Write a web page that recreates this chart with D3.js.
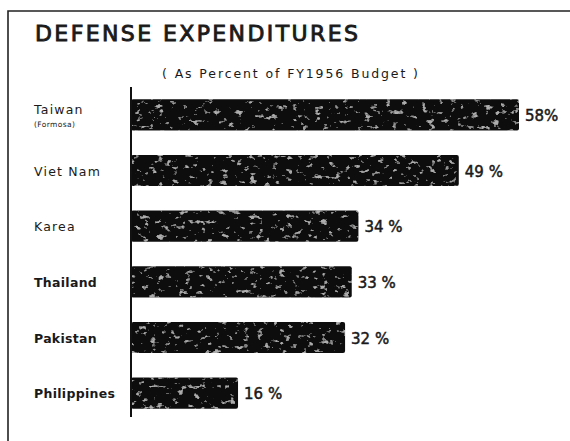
<!DOCTYPE html>
<html>
<head>
<meta charset="utf-8">
<script src="https://d3js.org/d3.v7.min.js"></script>
<style>
  body { margin: 0; background: #fff; }
  svg { display: block; }
</style>
</head>
<body>
<svg id="chart"></svg>
<script>
    // data
    var countries = ["Taiwan", "Viet Nam", "Karea", "Thailand", "Pakistan", "Philippines"];
    var subNotes = ["(Formosa)", "", "", "", "", ""];
    var percents = [58, 49, 34, 33, 32, 16];
    var valueLabels = ["58%", "49 %", "34 %", "33 %", "32 %", "16 %"];

    var w = 570, h = 441;
    var font = "'DejaVu Sans', sans-serif";

    var svg = d3.select("#chart")
        .attr("width", w)
        .attr("height", h);

    // speckle texture for the bars
    var defs = svg.append("defs");
    var f = defs.append("filter").attr("id", "speckle")
        .attr("x", 0).attr("y", 0).attr("width", 1).attr("height", 1);
    f.append("feTurbulence")
        .attr("type", "fractalNoise")
        .attr("baseFrequency", "0.14 0.2")
        .attr("numOctaves", 3)
        .attr("seed", 11)
        .attr("result", "noise");
    f.append("feColorMatrix")
        .attr("in", "noise")
        .attr("type", "matrix")
        .attr("values", "0 0 0 0 0.42  0 0 0 0 0.42  0 0 0 0 0.42  0 0 0 7 -4.4")
        .attr("result", "dots");
    f.append("feComposite")
        .attr("in", "dots").attr("in2", "SourceGraphic")
        .attr("operator", "in").attr("result", "dotsIn");
    var fm = f.append("feMerge");
    fm.append("feMergeNode").attr("in", "SourceGraphic");
    fm.append("feMergeNode").attr("in", "dotsIn");

    // frame (top and left only)
    svg.append("path")
        .attr("d", "M8," + h + " V11 H" + w)
        .attr("fill", "none")
        .attr("stroke", "#222")
        .attr("stroke-width", 1.6);

    svg.append("text")
        .attr("x", 35).attr("y", 41)
        .attr("font-family", font)
        .attr("font-size", 22)
        .attr("stroke", "#1a1a1a")
        .attr("stroke-width", 0.9)
        .attr("textLength", 323)
        .attr("fill", "#1a1a1a")
        .text("DEFENSE EXPENDITURES");

    svg.append("text")
        .attr("x", 162).attr("y", 78)
        .attr("font-family", font)
        .attr("font-size", 12.5)
        .attr("textLength", 256)
        .attr("fill", "#1a1a1a")
        .text("( As Percent of  FY1956 Budget )");

    var y = d3.scaleBand()
        .domain(countries)
        .range([87, 421])
        .paddingInner(0.44)
        .paddingOuter(0.22);

    var x = d3.scaleLinear()
        .domain([0, 58])
        .range([131, 519]);

    var rows = countries.map(function(c, i) {
        return {name: c, note: subNotes[i], v: percents[i], lab: valueLabels[i]};
    });

    svg.selectAll("rect.bar")
        .data(rows)
        .enter()
        .append("rect")
        .attr("class", "bar")
        .attr("x", x(0))
        .attr("y", function(d) { return y(d.name); })
        .attr("width", function(d) { return x(d.v) - x(0); })
        .attr("height", y.bandwidth())
        .attr("rx", 2)
        .attr("fill", "#111")
        .attr("filter", "url(#speckle)");

    // vertical axis line
    svg.append("line")
        .attr("x1", x(0)).attr("x2", x(0))
        .attr("y1", 87).attr("y2", 417)
        .attr("stroke", "#111")
        .attr("stroke-width", 2);

    svg.selectAll("text.val")
        .data(rows)
        .enter()
        .append("text")
        .attr("class", "val")
        .attr("x", function(d) { return x(d.v) + 6; })
        .attr("y", function(d) { return y(d.name) + y.bandwidth() / 2 + 6; })
        .attr("font-family", font)
        .attr("font-size", 15)
        .attr("stroke", "#1a1a1a")
        .attr("stroke-width", 0.5)
        .attr("fill", "#1a1a1a")
        .text(function(d) { return d.lab; });

    svg.selectAll("text.cat")
        .data(rows)
        .enter()
        .append("text")
        .attr("class", "cat")
        .attr("x", 34)
        .attr("y", function(d) {
            var c = y(d.name) + y.bandwidth() / 2 + 5;
            return d.note ? c - 6 : c;
        })
        .attr("font-family", font)
        .attr("font-size", 12.5)
        .attr("letter-spacing", function(d, i) { return i >= 3 ? 0.3 : 1.2; })
        .attr("font-weight", function(d, i) { return i >= 3 ? "bold" : "normal"; })
        .attr("fill", "#1a1a1a")
        .text(function(d) { return d.name; });

    svg.selectAll("text.note")
        .data(rows.filter(function(d) { return d.note; }))
        .enter()
        .append("text")
        .attr("class", "note")
        .attr("x", 34)
        .attr("y", function(d) { return y(d.name) + y.bandwidth() / 2 + 12; })
        .attr("font-family", font)
        .attr("font-size", 7.5)
        .attr("letter-spacing", 0.4)
        .attr("fill", "#1a1a1a")
        .text(function(d) { return d.note; });
</script>
</body>
</html>
